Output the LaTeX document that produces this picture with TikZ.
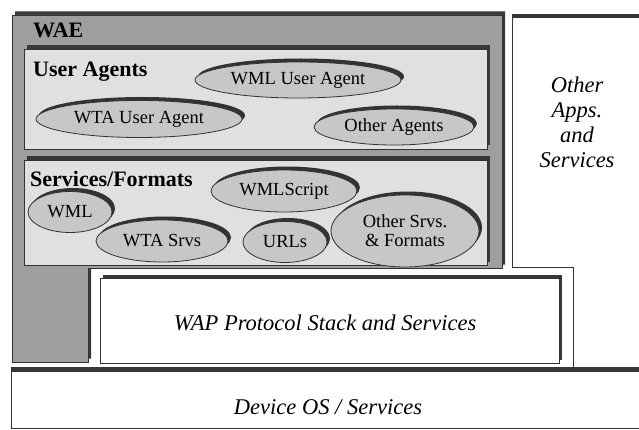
\documentclass[tikz,border=0pt]{standalone}
\usepackage{fontspec}
\setmainfont{Liberation Serif}
\usetikzlibrary{shapes.geometric,shadows}
\begin{document}
\begin{tikzpicture}[x=1pt,y=-1pt,
  boxshadow/.style={general shadow={shadow xshift=3pt,shadow yshift=3.5pt,fill=black!78}},
  layer/.style={draw=black!80,line width=0.8pt,boxshadow},
  ell/.style={ellipse,draw=black!80,line width=0.8pt,fill=black!22,inner sep=0pt,
    general shadow={shadow xshift=3pt,shadow yshift=3.5pt,fill=black!80},
    font=\fontsize{18.5}{19}\selectfont,align=center},
  head/.style={font=\fontsize{22}{23}\selectfont\bfseries,anchor=base west,inner sep=0pt},
  ital/.style={font=\fontsize{22.5}{25}\selectfont\itshape,align=center,inner sep=0pt}]
\useasboundingbox (0,0) rectangle (639,430);
\fill[white] (0,0) rectangle (639,430);
% WAE
\path[layer,fill=black!38] (12,15) -- (502,15) -- (502,268) -- (88,268) -- (88,362) -- (12,362) -- cycle;
\node[head] (wae) at (33,38) {WAE};
% User Agents
\path[layer,fill=black!12] (24,49) rectangle (487,149);
\node[head] (ua) at (33,77) {User Agents};
% Services/Formats
\path[layer,fill=black!12] (24,160) rectangle (487,265);
\node[head] (sf) at (30,187) {Services/Formats};
% ellipses
\node[ell,minimum width=206pt,minimum height=36pt] (wmlua) at (298,80) {WML User Agent};
\node[ell,minimum width=206pt,minimum height=37pt] (wtaua) at (139,119) {WTA User Agent};
\node[ell,minimum width=160pt,minimum height=36pt] (oag) at (394,127) {Other Agents};
\node[ell,minimum width=146pt,minimum height=42pt] (wmls) at (284,191) {WMLScript};
\node[ell,minimum width=84pt,minimum height=41pt] (wml) at (70,212) {WML};
\node[ell,minimum width=132pt,minimum height=42pt] (wtas) at (162,241) {WTA Srvs};
\node[ell,minimum width=84pt,minimum height=41pt] (urls) at (285,242) {URLs};
\node[ell,minimum width=148pt,minimum height=72pt] (osf) at (405,231) {Other Srvs.\\\& Formats};
% WAP
\path[layer,fill=white] (100,278) rectangle (559,363);
\node[ital] (wap) at (325,323) {WAP Protocol Stack and Services};
% Other apps
\path[draw=black!80,line width=0.8pt,fill=white] (512,17) -- (645,17) -- (645,367) -- (573,367) -- (573,267) -- (512,267) -- cycle;
\draw[black!78,line width=3pt] (512,15.5) -- (645,15.5);
\node[ital] (oas) at (577,122) {Other\\Apps.\\and\\Services};
% Device OS
\path[draw=black!80,line width=0.8pt,fill=white] (11,371) rectangle (645,428);
\draw[black!78,line width=4pt] (11,369) -- (645,369);
\node[ital] (dos) at (328,407) {Device OS / Services};
\end{tikzpicture}
\end{document}
